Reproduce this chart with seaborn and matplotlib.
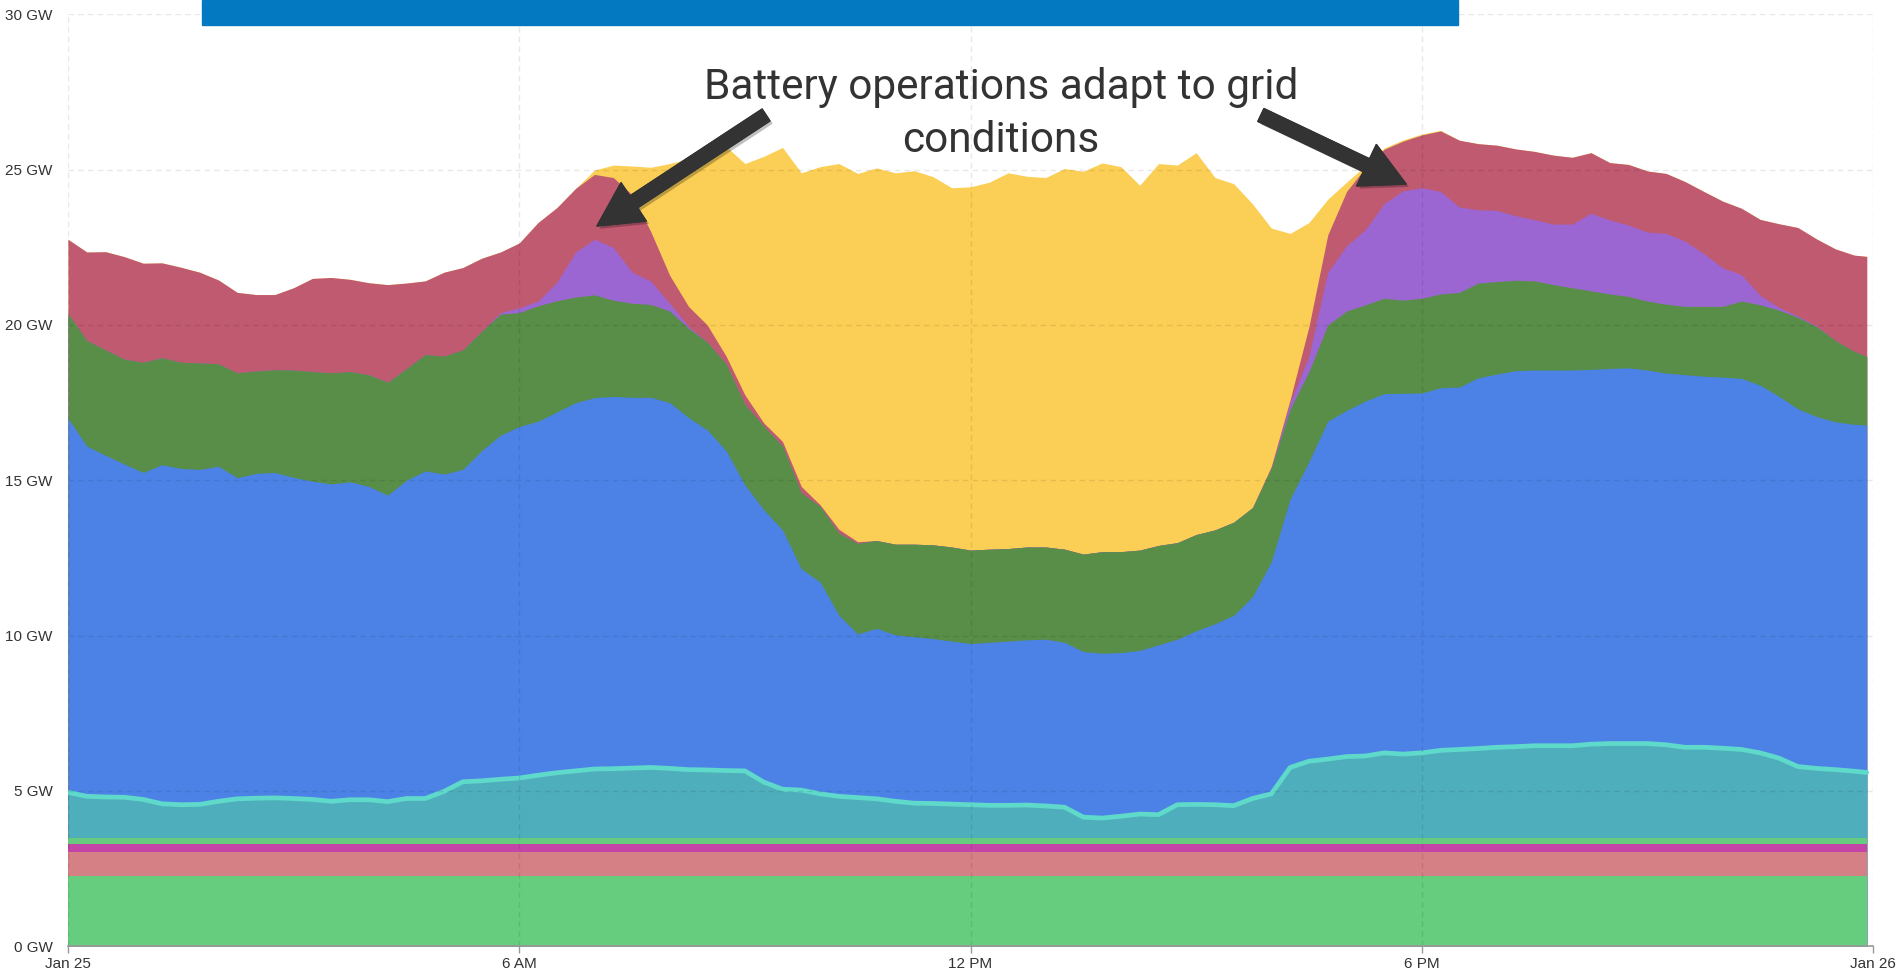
import matplotlib
matplotlib.use("Agg")
import matplotlib.pyplot as plt
import matplotlib.dates as mdates
import matplotlib.patheffects as pe
from matplotlib.patches import Rectangle
from matplotlib.ticker import FuncFormatter
import numpy as np
import pandas as pd
import seaborn as sns

# 15 minute readings for Jan 25, last sample at 23:55
times = pd.date_range("2025-01-25 00:00", periods=96, freq="15min").append(
    pd.DatetimeIndex(["2025-01-25 23:55"]))

# flat layers at the bottom (GW)
nuclear_gw = 2.27
geothermal_gw = 0.75
biomass_gw = 0.27
small_hydro_gw = 0.20

# one row per hour, 4 readings each, plus the 23:55 value (GW)
large_hydro = [1.46, 1.33, 1.31, 1.30, 1.23, 1.09, 1.06, 1.07,
               1.17, 1.25, 1.27, 1.28, 1.26, 1.23, 1.17, 1.22,
               1.22, 1.16, 1.26, 1.26, 1.49, 1.80, 1.83, 1.88,
               1.92, 2.01, 2.09, 2.15, 2.21, 2.22, 2.24, 2.26,
               2.23, 2.19, 2.18, 2.16, 2.15, 1.79, 1.56, 1.53,
               1.41, 1.33, 1.29, 1.25, 1.17, 1.11, 1.10, 1.08,
               1.06, 1.04, 1.04, 1.05, 1.02, 0.98, 0.66, 0.63,
               0.69, 0.76, 0.74, 1.06, 1.07, 1.06, 1.03, 1.26,
               1.41, 2.26, 2.46, 2.53, 2.61, 2.63, 2.73, 2.69,
               2.73, 2.81, 2.84, 2.87, 2.91, 2.93, 2.96, 2.96,
               2.96, 3.01, 3.03, 3.03, 3.03, 2.99, 2.91, 2.91,
               2.88, 2.84, 2.73, 2.56, 2.29, 2.23, 2.19, 2.14,
               2.10]

natural_gas = [12.04, 11.28, 11.00, 10.73, 10.53, 10.92, 10.83, 10.79,
               10.79, 10.34, 10.46, 10.48, 10.34, 10.25, 10.22, 10.24,
               10.09, 9.87, 10.25, 10.55, 10.22, 10.06, 10.63, 11.08,
               11.32, 11.40, 11.62, 11.86, 11.96, 11.99, 11.94, 11.92,
               11.78, 11.34, 10.95, 10.30, 9.21, 8.77, 8.35, 7.13,
               6.82, 5.83, 5.27, 5.49, 5.36, 5.36, 5.31, 5.25,
               5.19, 5.25, 5.29, 5.32, 5.37, 5.31, 5.33, 5.31,
               5.27, 5.27, 5.47, 5.33, 5.59, 5.83, 6.13, 6.50,
               7.48, 8.65, 9.65, 10.88, 11.15, 11.43, 11.57, 11.62,
               11.59, 11.68, 11.67, 11.94, 12.02, 12.11, 12.10, 12.10,
               12.10, 12.07, 12.08, 12.10, 12.03, 11.97, 12.00, 11.95,
               11.95, 11.95, 11.84, 11.65, 11.52, 11.33, 11.20, 11.17,
               11.19]

wind = [3.38, 3.40, 3.40, 3.38, 3.55, 3.45, 3.42, 3.43,
        3.30, 3.38, 3.30, 3.31, 3.46, 3.53, 3.58, 3.55,
        3.60, 3.64, 3.60, 3.75, 3.80, 3.85, 3.85, 3.90,
        3.67, 3.72, 3.58, 3.40, 3.31, 3.10, 3.03, 2.99,
        2.95, 2.88, 2.83, 2.80, 2.60, 2.70, 2.70, 2.45,
        2.44, 2.65, 2.92, 2.83, 2.92, 2.98, 3.02, 3.03,
        3.01, 3.00, 2.98, 2.99, 2.97, 3.00, 3.14, 3.27,
        3.25, 3.23, 3.20, 3.11, 3.10, 3.02, 3.00, 2.87,
        3.02, 2.90, 2.90, 3.10, 3.20, 3.10, 3.07, 3.00,
        3.05, 3.02, 3.05, 3.05, 2.98, 2.91, 2.87, 2.75,
        2.65, 2.53, 2.40, 2.30, 2.22, 2.22, 2.20, 2.25,
        2.28, 2.49, 2.59, 2.78, 2.95, 2.90, 2.62, 2.35,
        2.21]

batteries = [0, 0, 0, 0, 0, 0, 0, 0,
             0, 0, 0, 0, 0, 0, 0, 0,
             0, 0, 0, 0, 0, 0, 0, 0.05,
             0.15, 0.15, 0.60, 1.45, 1.79, 1.70, 1.00, 0.75,
             0.25, 0.05, 0, 0, 0, 0, 0, 0,
             0, 0, 0, 0, 0, 0, 0, 0,
             0, 0, 0, 0, 0, 0, 0, 0,
             0, 0, 0, 0, 0, 0, 0, 0,
             0, 0.20, 0.50, 1.70, 2.10, 2.42, 3.05, 3.52,
             3.56, 3.30, 2.75, 2.36, 2.29, 2.08, 1.97, 1.95,
             2.05, 2.50, 2.38, 2.30, 2.22, 2.28, 2.10, 1.70,
             1.24, 0.85, 0.30, 0.08, 0.04, 0.02, 0, 0,
             0]

imports = [2.39, 2.85, 3.16, 3.30, 3.19, 3.05, 3.06, 2.92,
           2.70, 2.59, 2.46, 2.42, 2.65, 3.00, 3.07, 2.97,
           2.96, 3.14, 2.75, 2.37, 2.70, 2.65, 2.35, 1.95,
           2.09, 2.53, 2.40, 2.05, 2.09, 2.25, 2.50, 1.59,
           0.90, 0.65, 0.55, 0.25, 0.30, 0.10, 0.15, 0.20,
           0.05, 0.12, 0.05, 0, 0, 0, 0, 0,
           0, 0, 0, 0, 0, 0, 0, 0,
           0, 0, 0, 0, 0, 0, 0, 0,
           0.05, 0.10, 0.95, 1.20, 1.75, 2.00, 1.75, 1.60,
           1.70, 1.95, 2.15, 2.13, 2.10, 2.15, 2.20, 2.22,
           2.15, 1.95, 1.85, 1.95, 1.97, 1.93, 1.92, 2.00,
           2.15, 2.14, 2.45, 2.70, 2.85, 2.80, 2.95, 3.10,
           3.22]

solar = [0, 0, 0, 0, 0, 0, 0, 0,
         0, 0, 0, 0, 0, 0, 0, 0,
         0, 0, 0, 0, 0, 0, 0, 0,
         0, 0, 0, 0, 0.14, 0.40, 0.92, 2.08,
         3.60, 4.75, 5.45, 6.75, 7.45, 8.58, 9.47, 10.10,
         10.89, 11.78, 11.86, 12.00, 11.96, 12.03, 11.86, 11.57,
         11.70, 11.82, 12.10, 11.94, 11.90, 12.26, 12.33, 12.52,
         12.40, 11.75, 12.30, 12.16, 12.30, 11.35, 10.90, 9.78,
         7.67, 5.35, 3.35, 1.15, 0.30, 0.06, 0.04, 0.04,
         0.03, 0.02, 0, 0, 0, 0, 0, 0,
         0, 0, 0, 0, 0, 0, 0, 0,
         0, 0, 0, 0, 0, 0, 0, 0,
         0]

n = len(times)
layers = [
    (np.full(n, nuclear_gw), "#66CD7E"),
    (np.full(n, geothermal_gw), "#D48084"),
    (np.full(n, biomass_gw), "#C345A6"),
    (np.full(n, small_hydro_gw), "#66CB7E"),
    (np.array(large_hydro), "#4FAEBC"),
    (np.array(natural_gas), "#4C82E6"),
    (np.array(wind), "#588E48"),
    (np.array(batteries), "#9C66D2"),
    (np.array(imports), "#C05A71"),
    (np.array(solar), "#FBCF55"),
]
for vals, _ in layers:
    assert len(vals) == n

cum = np.cumsum(np.vstack([v for v, _ in layers]), axis=0)

sns.set_theme(style="white")
plt.rcParams["font.family"] = ["Liberation Sans", "DejaVu Sans"]

fig = plt.figure(figsize=(19.01, 9.72), dpi=100)
ax = fig.add_axes([68 / 1901, 1 - 946 / 972, (1873 - 68) / 1901, (946 - 14.5) / 972])

# fill each cumulative top down to zero, top layer first (no seams)
for top, (_, color) in reversed(list(zip(cum, layers))):
    ax.fill_between(times, 0, top, color=color, lw=0, zorder=1)

sns.lineplot(x=times, y=cum[4], color="#5FD9CA", lw=3.4, ax=ax, zorder=2, legend=False)

ax.set_xlim(pd.Timestamp("2025-01-25 00:00"), pd.Timestamp("2025-01-26 00:00"))
ax.set_ylim(0, 30)
ax.set_yticks(range(0, 31, 5))
ax.yaxis.set_major_formatter(FuncFormatter(lambda v, p: f"{int(v)} GW"))
ax.xaxis.set_major_locator(mdates.HourLocator(byhour=[0, 6, 12, 18]))


def hour_label(x, pos):
    d = mdates.num2date(x)
    if d.hour == 0:
        return f"{d:%b} {d.day}"
    h = d.hour % 12 or 12
    return f"{h} {'AM' if d.hour < 12 else 'PM'}"


ax.xaxis.set_major_formatter(FuncFormatter(hour_label))
ax.set_xlabel("")
ax.set_ylabel("")

ax.set_axisbelow(False)
ax.grid(True, color="#000000", alpha=0.09, linestyle=(0, (4, 3)), lw=1)
for s in ["left", "right", "top"]:
    ax.spines[s].set_visible(False)
ax.spines["bottom"].set_color("#999999")
ax.spines["bottom"].set_linewidth(1.2)
ax.spines["bottom"].set_zorder(3)
ax.tick_params(axis="x", length=5, width=1, color="#999999", pad=3,
               labelsize=11, labelcolor="#333333", bottom=True)
ax.tick_params(axis="y", length=0, pad=11, labelsize=11, labelcolor="#333333")

ax.text(0.5169, 0.8932, "Battery operations adapt to grid\nconditions",
        transform=ax.transAxes, ha="center", va="center", multialignment="center",
        fontsize=30.5, color="#333333", family=["Roboto", "DejaVu Sans"],
        linespacing=1.37, zorder=5)

arrow_style = "simple,head_length=1.05,head_width=1.1,tail_width=0.34"
for tip, tail in [((0.2931, 0.7730), (0.3867, 0.8921)),
                  ((0.7413, 0.8180), (0.6609, 0.8921))]:
    ann = ax.annotate("", xy=tip, xytext=tail, xycoords="axes fraction",
                      textcoords="axes fraction", zorder=5,
                      arrowprops=dict(arrowstyle=arrow_style, color="#333333",
                                      mutation_scale=30, shrinkA=0, shrinkB=0))
    ann.arrow_patch.set_path_effects([
        pe.withSimplePatchShadow(offset=(2, -2), shadow_rgbFace="black", alpha=0.25),
        pe.Normal()])

# blue title banner, cropped at the top edge
fig.patches.append(Rectangle((202 / 1901, 1 - 25.5 / 972), 1256 / 1901, 25.5 / 972,
                             transform=fig.transFigure, color="#0279C1", zorder=10))

fig.savefig("out.png", dpi=100)
